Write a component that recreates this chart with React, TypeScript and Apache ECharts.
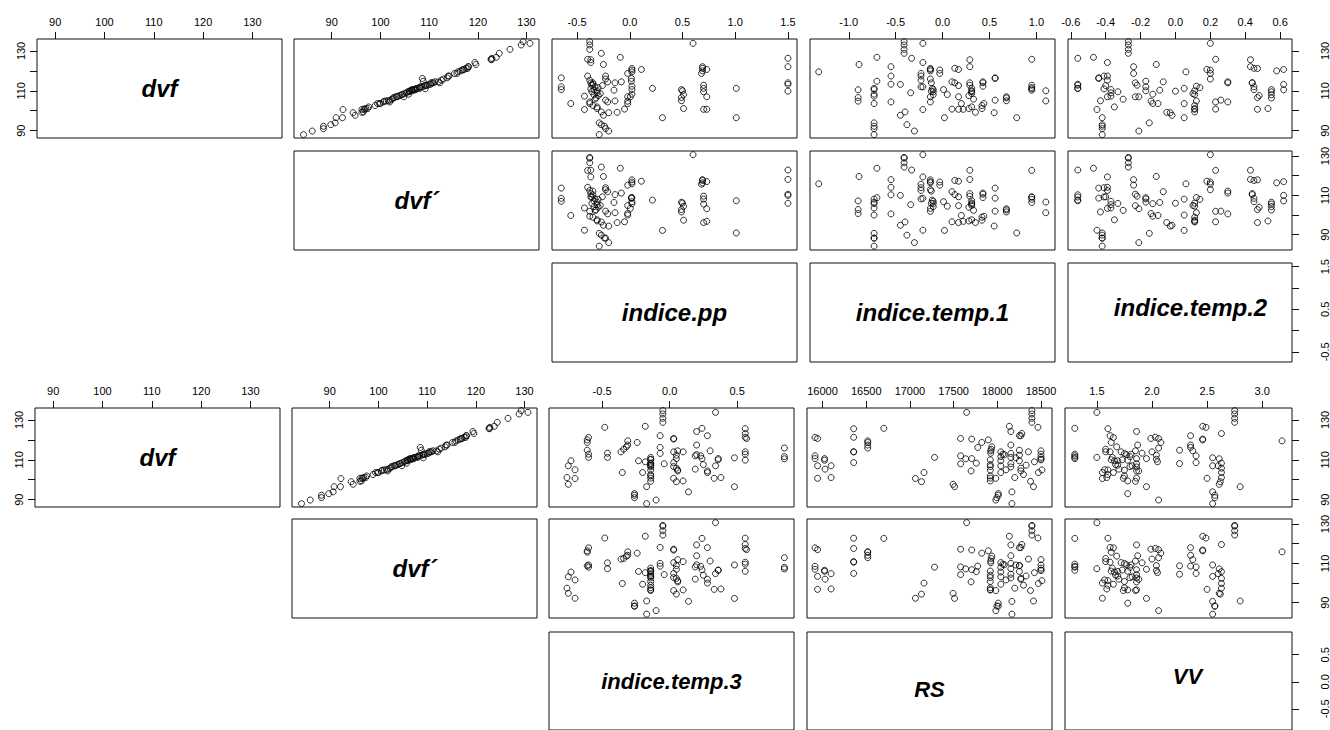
import React, { useEffect, useRef } from "react";
import * as echarts from "echarts";

// ---------------- data (one entry per observation, same order in every array) ----------------
const dvf = [
  134.7, 133.8, 133.0, 130.8, 128.8, 126.8, 126.3, 125.8, 125.6, 124.2,
  123.2, 122.1, 122.1, 121.3, 121.2, 120.7, 120.7, 120.4, 120.0, 119.5,
  118.7, 118.7, 117.4, 117.4, 116.5, 116.2, 115.9, 115.3, 114.8, 114.5,
  114.5, 114.0, 114.0, 114.0, 114.0, 113.3, 113.2, 112.8, 112.8, 112.6,
  112.3, 112.0, 112.0, 111.6, 111.2, 111.2, 111.2, 111.0, 110.6, 110.6,
  110.6, 110.5, 110.3, 110.0, 110.0, 109.8, 109.5, 109.5, 109.0, 108.6,
  108.3, 108.1, 108.0, 107.6, 107.3, 107.0, 107.0, 107.0, 106.6, 106.4,
  105.8, 105.3, 105.0, 104.9, 104.8, 104.4, 104.4, 103.6, 103.6, 103.6,
  102.6, 101.9, 101.1, 101.1, 100.8, 100.7, 100.7, 100.6, 99.4, 99.2,
  99.0, 97.7, 96.5, 96.5, 93.9, 93.0, 92.2, 91.0, 89.8, 88.0,
];
const dvfPrime = [
  129.3, 130.7, 128.9, 126.6, 124.4, 123.8, 122.9, 122.7, 122.8, 119.4,
  119.6, 118.0, 118.1, 117.6, 117.9, 117.2, 117.0, 116.8, 116.4, 115.9,
  115.7, 115.2, 114.1, 113.9, 113.7, 108.6, 112.9, 112.5, 108.8, 111.9,
  111.2, 110.9, 112.2, 110.4, 110.6, 110.3, 110.0, 109.6, 109.2, 109.3,
  108.9, 108.5, 108.2, 108.0, 107.6, 108.1, 107.3, 109.2, 107.0, 106.8,
  106.5, 107.2, 106.4, 106.1, 106.6, 106.0, 105.6, 105.9, 105.3, 104.9,
  105.8, 104.5, 104.3, 104.0, 103.6, 104.8, 103.2, 103.4, 102.8, 102.6,
  102.4, 102.0, 101.6, 101.2, 100.8, 101.9, 100.6, 99.8, 99.4, 100.0,
  98.9, 97.6, 97.4, 97.0, 96.6, 96.2, 96.8, 92.3, 96.5, 96.2,
  94.4, 94.8, 92.2, 90.9, 90.7, 89.8, 88.3, 88.3, 86.0, 84.2,
];
const indicePp = [
  -0.38, 0.6, -0.38, -0.38, -0.27, -0.09, 1.5, -0.4, -0.37, -0.37,
  -0.25, 0.69, 1.5, 0.69, 0.02, 0.11, 0.73, 0.02, 0.69, 0.02,
  0.68, -0.02, -0.4, -0.23, -0.65, 0.015, -0.23, -0.38, 0.015, -0.21,
  -0.08, -0.37, -0.35, -0.14, 1.5, -0.35, 1.5, 0.7, -0.36, -0.26,
  0.02, -0.65, -0.33, -0.3, 0.215, 0.7, 1.01, -0.37, -0.65, 0.02,
  0.49, -0.34, -0.15, 0.5, -0.31, 1.5, 0.7, -0.36, -0.31, -0.28,
  0.02, 0.51, -0.34, -0.3, -0.43, -0.02, 0.73, 0.005, 0.49, -0.32,
  -0.33, -0.23, 0.49, -0.14, -0.02, -0.38, -0.21, -0.56, -0.38, -0.02,
  -0.35, -0.31, 0.51, -0.31, -0.05, 0.7, 0.73, -0.43, -0.27, -0.12,
  -0.2, -0.25, 0.31, 1.01, -0.29, -0.27, -0.24, -0.23, -0.2, -0.29,
];
const indiceTemp1 = [
  -0.41, -0.21, -0.41, -0.41, -0.41, -0.7, -0.33, 0.95, 0.29, -0.21,
  -0.89, -0.55, 0.29, 0.13, -0.13, 0.17, -0.13, -0.03, -0.13, -1.32,
  -0.23, -0.03, -0.55, -0.23, 0.56, 0.56, -0.13, -0.23, -0.7, 0.1,
  0.43, 0.29, -0.12, 0.13, 0.43, -0.55, -0.45, 0.29, 0.95, 0.17,
  0.43, -0.21, -0.23, 0.95, -0.11, -0.73, 0.31, 0.95, -0.1, 0.01,
  -0.73, -0.9, 0.95, 0.31, 1.1, -0.12, 0.31, -0.1, -0.34, 0.31,
  -0.73, 0.05, -0.1, 0.28, -0.73, 0.17, 0.68, -0.13, -0.9, 0.68,
  0.33, 0.56, 0.68, 1.1, -0.9, -0.13, -0.55, 0.2, 0.44, -0.73,
  0.42, 0.31, 0.42, 0.28, 0.1, 0.17, 0.22, -0.21, -0.4, 0.35,
  0.55, -0.45, 0.02, 0.79, -0.73, -0.38, -0.73, -0.73, -0.3, -0.73,
];
const indiceTemp2 = [
  -0.27, 0.2, -0.27, -0.27, -0.27, -0.47, -0.56, 0.23, 0.43, -0.39,
  -0.11, -0.24, 0.43, 0.45, 0.47, 0.18, 0.62, 0.2, 0.58, 0.06,
  0.2, -0.24, -0.39, -0.41, -0.44, -0.44, 0.2, -0.39, -0.17, -0.07,
  0.3, 0.44, 0.3, 0.44, -0.23, -0.56, 0.62, -0.22, -0.56, -0.4,
  0.12, 0.45, -0.17, 0.14, -0.56, 0.05, -0.56, -0.41, -0.37, 0.45,
  0.55, 0.62, -0.09, 0.11, -0.17, 0.0, 0.55, -0.33, -0.37, 0.1,
  -0.13, 0.11, 0.55, 0.48, -0.37, -0.23, -0.21, -0.39, 0.47, 0.55,
  -0.3, 0.26, -0.43, 0.12, -0.14, 0.23, 0.3, -0.1, -0.13, 0.05,
  0.11, -0.35, 0.11, 0.53, 0.23, 0.47, 0.11, -0.45, 0.11, -0.05,
  -0.03, -0.02, 0.05, -0.42, -0.15, -0.42, -0.42, -0.42, -0.21, -0.42,
];
const indiceTemp3 = [
  -0.05, 0.34, -0.05, -0.05, -0.05, -0.18, -0.48, 0.24, 0.56, 0.2,
  0.56, 0.28, -0.07, 0.56, -0.6, 0.03, 0.57, 0.03, -0.61, -0.31,
  -0.61, -0.24, -0.31, 0.2, -0.32, -0.07, 0.85, -0.34, -0.61, 0.06,
  0.3, 0.1, -0.36, 0.03, 0.56, -0.46, -0.07, 0.56, -0.6, 0.2,
  0.05, 0.23, 0.19, 0.85, -0.14, -0.6, -0.46, 0.48, 0.05, 0.24,
  0.36, 0.85, -0.14, -0.14, 0.36, 0.56, -0.73, -0.23, -0.18, 0.03,
  -0.14, -0.14, -0.04, 0.25, -0.14, 0.34, -0.75, -0.14, 0.03, -0.14,
  0.05, 0.19, -0.7, 0.06, -0.14, 0.28, 0.06, -0.35, -0.2, 0.28,
  -0.14, -0.14, -0.76, 0.38, -0.14, 0.03, 0.33, -0.7, 0.1, -0.14,
  0.05, -0.75, 0.48, -0.17, 0.14, -0.26, -0.26, -0.26, -0.1, -0.17,
];
const rs = [
  18396, 17649, 18396, 18396, 18396, 18138, 18465, 16701, 16356, 18155,
  18281, 18253, 18270, 16356, 15914, 17580, 15943, 17707, 17897, 16517,
  16517, 17822, 16517, 18155, 17937, 17776, 16517, 17930, 18253, 18500,
  17925, 16356, 18356, 18040, 16356, 17925, 18155, 18063, 18500, 18080,
  18253, 15914, 17580, 18040, 18500, 17282, 18155, 18212, 15914, 17707,
  16023, 17638, 18500, 17920, 18500, 16023, 18040, 18253, 18425, 16356,
  17760, 18155, 17580, 17920, 18330, 16098, 18040, 15943, 17920, 18155,
  18270, 16029, 18100, 18511, 17920, 18270, 17700, 18470, 18040, 17161,
  18300, 17920, 18200, 16098, 17920, 17983, 15943, 17063, 17920, 18380,
  17132, 17494, 17511, 18414, 18167, 18011, 18011, 17995, 17983, 18167,
];
const vv = [
  2.75, 1.5, 2.75, 2.75, 2.75, 2.46, 2.49, 1.3, 1.6, 1.86,
  2.63, 2.35, 1.62, 2.03, 1.65, 1.99, 2.06, 2.46, 2.46, 3.18,
  1.63, 2.08, 2.35, 1.87, 1.68, 2.35, 2.06, 1.58, 2.25, 2.37,
  1.85, 1.58, 2.0, 1.72, 1.62, 1.91, 1.75, 1.3, 1.81, 1.77,
  2.04, 1.3, 2.4, 1.8, 1.64, 1.3, 1.5, 2.55, 1.95, 1.86,
  1.3, 2.61, 2.04, 1.63, 1.73, 1.78, 1.66, 1.69, 2.05, 2.4,
  2.63, 2.25, 1.86, 1.67, 1.69, 2.6, 1.82, 2.55, 1.8, 1.86,
  2.63, 1.7, 1.57, 1.6, 1.75, 1.88, 1.86, 2.63, 1.65, 1.55,
  1.6, 1.75, 2.63, 1.59, 1.86, 1.74, 2.5, 1.55, 1.78, 1.85,
  2.62, 2.61, 1.95, 2.8, 2.55, 1.78, 2.57, 2.57, 2.06, 2.55,
];

// ---------------- tick values ----------------
const dvfTicks = [90, 100, 110, 120, 130];
const dvfSideLabels = [90, 110, 130];
const ppTicks = [-0.5, 0, 0.5, 1, 1.5];
const ppSideLabels = [-0.5, 0.5, 1.5];
const temp1Ticks = [-1, -0.5, 0, 0.5, 1];
const temp2Ticks = [-0.6, -0.4, -0.2, 0, 0.2, 0.4, 0.6];
const temp3Ticks = [-0.5, 0, 0.5];
const rsTicks = [16000, 16500, 17000, 17500, 18000, 18500];
const vvTicks = [1.5, 2, 2.5, 3];

// axis extents as drawn in the reference (data range plus R's 4% padding)
const dvfExtent = [86.3, 136.0];
const dvfPrimeExtent = [82.25, 132.56];
const ppExtent = [-0.738, 1.586];
const temp1Extent = [-1.413, 1.198];
const temp2Extent = [-0.616, 0.668];
const temp3Extent = [-0.893, 0.921];
const rsExtent = [15822, 18626];
const vvExtent = [1.211, 3.27];

type VarDef = {
  name: string;
  values: number[];
  extent: number[];
  ticks: number[];
  sideLabels: number[];
  digits: number;
};

const V_DVF: VarDef = { name: "dvf", values: dvf, extent: dvfExtent, ticks: dvfTicks, sideLabels: dvfSideLabels, digits: 0 };
const V_DVFP: VarDef = { name: "dvf\u00b4", values: dvfPrime, extent: dvfPrimeExtent, ticks: dvfTicks, sideLabels: dvfSideLabels, digits: 0 };
const V_PP: VarDef = { name: "indice.pp", values: indicePp, extent: ppExtent, ticks: ppTicks, sideLabels: ppSideLabels, digits: 1 };
const V_T1: VarDef = { name: "indice.temp.1", values: indiceTemp1, extent: temp1Extent, ticks: temp1Ticks, sideLabels: temp1Ticks, digits: 1 };
const V_T2: VarDef = { name: "indice.temp.2", values: indiceTemp2, extent: temp2Extent, ticks: temp2Ticks, sideLabels: temp2Ticks, digits: 1 };
const V_T3: VarDef = { name: "indice.temp.3", values: indiceTemp3, extent: temp3Extent, ticks: temp3Ticks, sideLabels: temp3Ticks, digits: 1 };
const V_RS: VarDef = { name: "RS", values: rs, extent: rsExtent, ticks: rsTicks, sideLabels: rsTicks, digits: 0 };
const V_VV: VarDef = { name: "VV", values: vv, extent: vvExtent, ticks: vvTicks, sideLabels: vvTicks, digits: 1 };

// ---------------- layout ----------------
const PANEL_W = 245;
const PANEL_H = 99;
const INK = "#111";
const FONT = '"Liberation Sans", Arial, sans-serif';

const blocks = [
  {
    vars: [V_DVF, V_DVFP, V_PP, V_T1, V_T2],
    cols: [37, 294, 552, 810, 1068],
    rows: [39, 151, 263],
    labelSize: [24, 24, 24],
    labelDy: [0, 0, 0, 0, -5],
  },
  {
    vars: [V_DVF, V_DVFP, V_T3, V_RS, V_VV],
    cols: [35, 292, 549, 807, 1065],
    rows: [408, 519, 632],
    labelSize: [24, 24, 22],
    labelDy: [0, 0, 0, 8, -5],
  },
];

function buildOption() {
  const grid: any[] = [];
  const xAxis: any[] = [];
  const yAxis: any[] = [];
  const series: any[] = [];
  const graphic: any[] = [];

  blocks.forEach((b) => {
    for (let r = 0; r < 3; r++) {
      for (let c = r; c < 5; c++) {
        const idx = grid.length;
        const vx = b.vars[c];
        const vy = b.vars[r];
        const left = b.cols[c];
        const top = b.rows[r];
        grid.push({
          left,
          top,
          width: PANEL_W,
          height: PANEL_H,
          show: true,
          borderColor: INK,
          borderWidth: 1,
          backgroundColor: "transparent",
        });
        xAxis.push({
          type: "value",
          gridIndex: idx,
          position: "top",
          min: vx.extent[0],
          max: vx.extent[1],
          show: r === 0,
          axisLine: { show: false, onZero: false },
          splitLine: { show: false },
          axisTick: {
            show: true,
            inside: false,
            length: 7,
            customValues: vx.ticks,
            lineStyle: { color: INK, width: 1 },
          },
          axisLabel: {
            customValues: vx.ticks,
            formatter: (v: number) => v.toFixed(vx.digits),
            fontSize: 11,
            fontFamily: FONT,
            color: "#000",
            margin: 12,
          },
        });
        const showY = (c === 0 && r === 0) || c === 4;
        yAxis.push({
          type: "value",
          gridIndex: idx,
          position: c === 0 ? "left" : "right",
          min: vy.extent[0],
          max: vy.extent[1],
          show: showY,
          axisLine: { show: false, onZero: false },
          splitLine: { show: false },
          axisTick: {
            show: true,
            inside: false,
            length: 7,
            customValues: vy.ticks,
            lineStyle: { color: INK, width: 1 },
          },
          axisLabel: {
            customValues: vy.sideLabels,
            formatter: (v: number) => v.toFixed(vy.digits),
            fontSize: 11,
            fontFamily: FONT,
            color: "#000",
            rotate: 90,
            margin: c === 0 ? 11 : 27,
          },
        });
        const isLabelPanel = r === c || r === 2;
        if (isLabelPanel) {
          graphic.push({
            type: "text",
            x: left + PANEL_W / 2,
            y: top + PANEL_H / 2 + (r === 2 ? b.labelDy[c] : 0),
            silent: true,
            style: {
              text: vx.name,
              fill: "#000",
              font: `italic bold ${b.labelSize[r]}px ${FONT}`,
              align: "center",
              verticalAlign: "middle",
            },
          });
        } else {
          series.push({
            type: "scatter",
            xAxisIndex: idx,
            yAxisIndex: idx,
            symbol: "circle",
            symbolSize: 6,
            silent: true,
            itemStyle: { color: "rgba(0,0,0,0)", borderColor: "#000", borderWidth: 1 },
            data: vx.values.map((v, i) => [v, vy.values[i]]),
          });
        }
      }
    }
  });

  return {
    animation: false,
    backgroundColor: "#ffffff",
    textStyle: { fontFamily: FONT },
    grid,
    xAxis,
    yAxis,
    series,
    graphic,
  };
}

export default function App() {
  const ref = useRef<HTMLDivElement>(null);
  useEffect(() => {
    if (!ref.current) return;
    const chart = echarts.init(ref.current, undefined, { renderer: "svg" });
    chart.setOption(buildOption() as any);
    return () => chart.dispose();
  }, []);
  return (
    <div
      ref={ref}
      style={{ position: "absolute", left: 0, top: 0, width: 1330, height: 730, background: "#fff" }}
    />
  );
}
